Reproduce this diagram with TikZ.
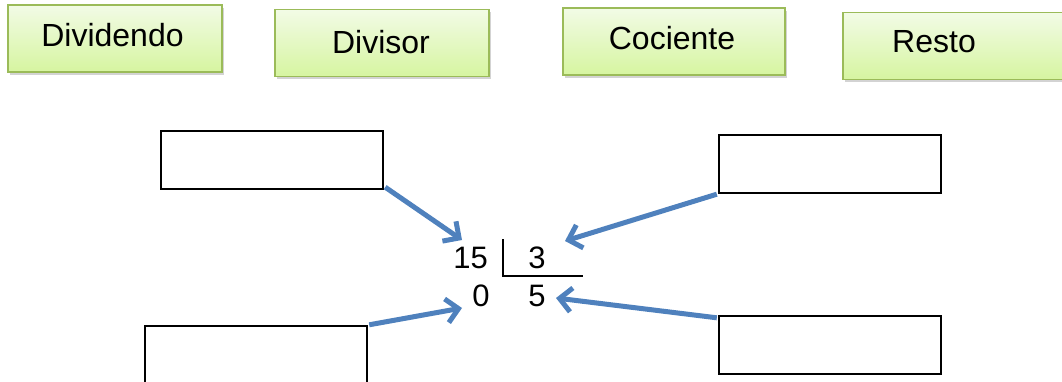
\documentclass[tikz,border=0pt]{standalone}
\usepackage{fontspec}
\setmainfont{Liberation Sans}
\usetikzlibrary{arrows.meta,shadows,fadings}
\definecolor{boxtop}{HTML}{F2FBE6}
\definecolor{boxbot}{HTML}{D6F5A0}
\definecolor{boxline}{HTML}{9BBB59}
\definecolor{arr}{HTML}{4F81BD}
\tikzset{
  label box/.style={draw=boxline, line width=1.5pt, top color=boxtop, bottom color=boxbot,
    minimum width=214pt, minimum height=67pt, inner sep=0pt,
    drop shadow={opacity=0.35, shadow xshift=1.5pt, shadow yshift=-3pt}},
  label text/.style={font=\fontsize{32}{36}\selectfont, inner sep=0pt},
  empty box/.style={draw=black, line width=2.4pt, fill=white, minimum width=222pt, minimum height=58pt, inner sep=0pt},
  num/.style={font=\fontsize{31}{34}\selectfont, inner sep=0pt},
  arrow/.style={draw=arr, line width=5pt, -{Straight Barb[length=12pt,width=24pt,line width=5pt]}}
}
\begin{document}
\begin{tikzpicture}[x=1pt,y=-1pt]
\useasboundingbox (0,0) rectangle (1062,382);
\clip (0,0) rectangle (1062,382);
% label boxes
\node[label box] (dividendo) at (115,38.5) {};
\node[label box] (divisor) at (382,43) {};
\node[label box, minimum width=222pt] (cociente) at (674,41.5) {};
\node[label box, minimum width=240pt] (resto) at (963,46) {};
\node[label text] (tdividendo) at (112.5,35) {Dividendo};
\node[label text] (tdivisor) at (381,42) {Divisor};
\node[label text] (tcociente) at (672,38) {Cociente};
\node[label text] (tresto) at (934,42) {Resto};
% empty boxes
\node[empty box] (tl) at (272,160) {};
\node[empty box] (tr) at (830,164) {};
\node[empty box] (bl) at (256,355) {};
\node[empty box] (br) at (830,345) {};
% numbers
\node[num] (n15) at (470.5,257.5) {15};
\node[num] (n3) at (537,257.5) {3};
\node[num] (n0) at (481,296) {0};
\node[num] (n5) at (537,296) {5};
\coordinate (vtop) at (503,239);
\coordinate (corner) at (503,276);
\coordinate (hend) at (583,276);
\draw[line width=2pt] (vtop) -- (corner) -- (hend);
% arrows
\coordinate (a1) at (462,240);
\coordinate (a2) at (565,241);
\coordinate (a3) at (462,308);
\coordinate (a4) at (556,298);
\draw[arrow] ([xshift=1pt,yshift=3pt]tl.south east) -- (a1);
\draw[arrow] ([xshift=-1pt]tr.south west) -- (a2);
\draw[arrow] ([xshift=1pt]bl.north east) -- (a3);
\draw[arrow] ([xshift=-1pt,yshift=-3pt]br.north west) -- (a4);
\end{tikzpicture}
\end{document}
